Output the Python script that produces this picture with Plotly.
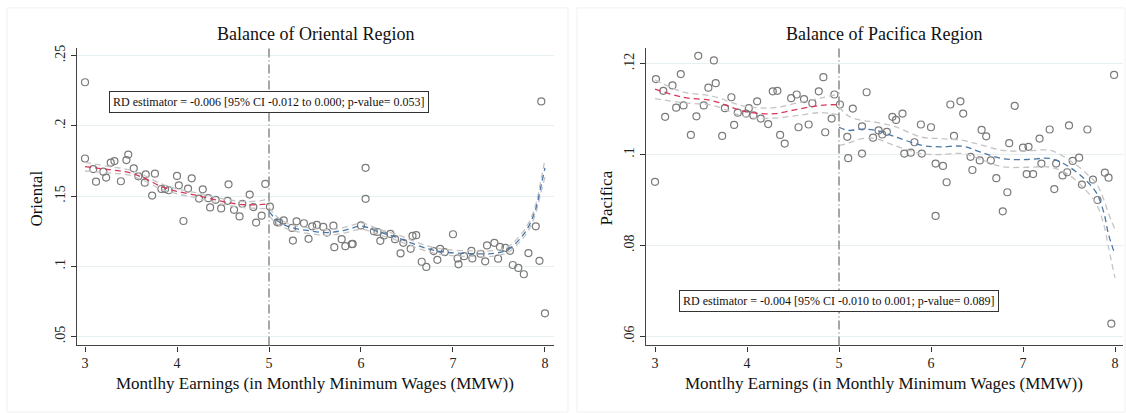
import plotly.graph_objects as go

# ---------------- data: Oriental ----------------
ori_x = [3.00, 3.00, 3.09, 3.12, 3.20, 3.23, 3.28, 3.32, 3.39, 3.45, 3.47, 3.53, 3.58, 3.65, 3.66,
         3.73, 3.76, 3.83, 3.87, 3.91, 4.00, 4.02, 4.07, 4.12, 4.16, 4.24, 4.28, 4.34, 4.36, 4.42,
         4.48, 4.55, 4.56, 4.62, 4.68, 4.71, 4.79, 4.83, 4.86, 4.92, 4.96, 5.01, 5.09, 5.11, 5.16,
         5.25, 5.26, 5.30, 5.38, 5.43, 5.47, 5.52, 5.59, 5.63, 5.70, 5.71, 5.79, 5.83, 5.90, 5.91,
         6.00, 6.05, 6.05, 6.14, 6.18, 6.21, 6.25, 6.32, 6.37, 6.43, 6.46, 6.54, 6.56, 6.60, 6.66,
         6.71, 6.79, 6.83, 6.86, 6.91, 7.00, 7.05, 7.06, 7.12, 7.20, 7.21, 7.30, 7.35, 7.37, 7.45,
         7.49, 7.51, 7.57, 7.62, 7.65, 7.71, 7.77, 7.82, 7.90, 7.94, 7.96, 8.00]
ori_y = [0.2310, 0.1767, 0.1692, 0.1602, 0.1673, 0.1631, 0.1737, 0.1749, 0.1605, 0.1756, 0.1795,
         0.1697, 0.1640, 0.1595, 0.1654, 0.1503, 0.1659, 0.1550, 0.1550, 0.1541, 0.1643, 0.1576,
         0.1322, 0.1553, 0.1626, 0.1482, 0.1548, 0.1485, 0.1419, 0.1473, 0.1412, 0.1466, 0.1583,
         0.1402, 0.1355, 0.1445, 0.1510, 0.1421, 0.1311, 0.1360, 0.1586, 0.1424, 0.1313, 0.1313,
         0.1327, 0.1273, 0.1183, 0.1320, 0.1306, 0.1195, 0.1284, 0.1294, 0.1280, 0.1240, 0.1289,
         0.1136, 0.1193, 0.1143, 0.1157, 0.1159, 0.1291, 0.1701, 0.1480, 0.1249, 0.1244, 0.1181,
         0.1219, 0.1230, 0.1193, 0.1092, 0.1167, 0.1124, 0.1216, 0.1221, 0.1032, 0.0995, 0.1108,
         0.1046, 0.1124, 0.1101, 0.1228, 0.1056, 0.1014, 0.1072, 0.1110, 0.1056, 0.1089, 0.1035,
         0.1148, 0.1167, 0.1054, 0.1138, 0.1131, 0.1110, 0.1009, 0.0988, 0.0943, 0.1094, 0.1284,
         0.1039, 0.2173, 0.0665]

ori_lx = [3.0, 3.29, 3.47, 3.65, 3.83, 4.01, 4.19, 4.37, 4.55, 4.74, 4.96, 5.0]
ori_lfit = [0.1709, 0.1685, 0.1669, 0.1626, 0.1567, 0.1532, 0.1508, 0.1480, 0.1454, 0.1438, 0.1442, 0.1449]
ori_lup = [0.1740, 0.1707, 0.1688, 0.1645, 0.1586, 0.1550, 0.1526, 0.1498, 0.1474, 0.1460, 0.1475, 0.1495]
ori_llo = [0.1678, 0.1663, 0.1650, 0.1607, 0.1548, 0.1514, 0.1490, 0.1462, 0.1434, 0.1416, 0.1410, 0.1403]

ori_rx = [5.0, 5.1, 5.25, 5.45, 5.64, 5.83, 6.01, 6.19, 6.37, 6.55, 6.75, 6.95, 7.2, 7.45, 7.6,
          7.72, 7.82, 7.9, 7.96, 8.0]
ori_rfit = [0.1390, 0.1320, 0.1275, 0.1252, 0.1240, 0.1258, 0.1285, 0.1245, 0.1210, 0.1165, 0.1120,
            0.1098, 0.1090, 0.1092, 0.1120, 0.1190, 0.1280, 0.1410, 0.1580, 0.1700]
ori_rup = [0.1420, 0.1345, 0.1295, 0.1272, 0.1260, 0.1278, 0.1307, 0.1265, 0.1230, 0.1185, 0.1140,
           0.1118, 0.1110, 0.1112, 0.1140, 0.1212, 0.1305, 0.1440, 0.1625, 0.1765]
ori_rlo = [0.1360, 0.1295, 0.1255, 0.1232, 0.1220, 0.1238, 0.1263, 0.1225, 0.1190, 0.1145, 0.1100,
           0.1078, 0.1070, 0.1072, 0.1100, 0.1168, 0.1255, 0.1380, 0.1535, 0.1635]

# ---------------- data: Pacifica ----------------
pac_x = [3.00, 3.01, 3.09, 3.11, 3.19, 3.23, 3.28, 3.31, 3.39, 3.45, 3.47, 3.53, 3.58, 3.64, 3.66,
         3.73, 3.76, 3.83, 3.86, 3.90, 3.99, 4.02, 4.07, 4.11, 4.15, 4.23, 4.28, 4.33, 4.36, 4.41,
         4.48, 4.54, 4.56, 4.62, 4.67, 4.71, 4.78, 4.83, 4.85, 4.92, 4.95, 5.01, 5.09, 5.10, 5.15,
         5.25, 5.25, 5.30, 5.37, 5.43, 5.47, 5.52, 5.58, 5.62, 5.69, 5.71, 5.78, 5.82, 5.89, 5.90,
         6.00, 6.05, 6.05, 6.13, 6.17, 6.21, 6.25, 6.32, 6.35, 6.43, 6.45, 6.53, 6.55, 6.60, 6.65,
         6.71, 6.78, 6.83, 6.85, 6.91, 7.00, 7.04, 7.06, 7.11, 7.18, 7.20, 7.29, 7.34, 7.36, 7.43,
         7.48, 7.50, 7.54, 7.61, 7.64, 7.70, 7.76, 7.81, 7.89, 7.93, 7.96, 7.99]
pac_y = [0.0940, 0.1166, 0.1140, 0.1083, 0.1152, 0.1103, 0.1177, 0.1108, 0.1043, 0.1084, 0.1217,
         0.1108, 0.1147, 0.1207, 0.1157, 0.1041, 0.1102, 0.1126, 0.1065, 0.1092, 0.1090, 0.1102,
         0.1086, 0.1117, 0.1079, 0.1067, 0.1139, 0.1140, 0.1043, 0.1024, 0.1124, 0.1132, 0.1060,
         0.1122, 0.1066, 0.1113, 0.1139, 0.1170, 0.1049, 0.1079, 0.1132, 0.1110, 0.1039, 0.0992,
         0.1101, 0.1002, 0.1062, 0.1137, 0.1037, 0.1053, 0.1044, 0.1050, 0.1083, 0.1076, 0.1090,
         0.1002, 0.1004, 0.1027, 0.1066, 0.1002, 0.1060, 0.0980, 0.0865, 0.0975, 0.0939, 0.1110,
         0.1041, 0.1117, 0.1090, 0.0995, 0.0966, 0.0987, 0.1054, 0.1040, 0.0987, 0.0948, 0.0875,
         0.0917, 0.1025, 0.1107, 0.1015, 0.0957, 0.1017, 0.0957, 0.1035, 0.0980, 0.1055, 0.0924,
         0.0980, 0.0954, 0.0961, 0.1064, 0.0986, 0.0993, 0.0934, 0.1055, 0.0945, 0.0900, 0.0960,
         0.0949, 0.0628, 0.1175]

pac_lx = [3.0, 3.3, 3.63, 3.93, 4.1, 4.3, 4.56, 4.8, 5.0]
pac_lfit = [0.1144, 0.1126, 0.1118, 0.1097, 0.1091, 0.1090, 0.1100, 0.1108, 0.1110]
pac_lup = [0.1164, 0.1138, 0.1128, 0.1108, 0.1103, 0.1103, 0.1114, 0.1124, 0.1133]
pac_llo = [0.1123, 0.1114, 0.1108, 0.1086, 0.1080, 0.1080, 0.1086, 0.1092, 0.1087]

pac_rx = [5.0, 5.1, 5.25, 5.4, 5.6, 5.9, 6.1, 6.35, 6.53, 6.78, 7.05, 7.3, 7.5, 7.68, 7.8, 7.88, 7.93, 8.0]
pac_rfit = [0.1060, 0.1053, 0.1056, 0.1053, 0.1040, 0.1020, 0.1017, 0.1018, 0.1006, 0.0991, 0.0989,
            0.0991, 0.0973, 0.0944, 0.0915, 0.0871, 0.0824, 0.0780]
pac_rup = [0.1105, 0.1085, 0.1075, 0.1071, 0.1062, 0.1038, 0.1035, 0.1031, 0.1022, 0.1009, 0.1008,
           0.1009, 0.0988, 0.0960, 0.0935, 0.0900, 0.0870, 0.0835]
pac_rlo = [0.1020, 0.1025, 0.1035, 0.1035, 0.1020, 0.1002, 0.1000, 0.1002, 0.0990, 0.0973, 0.0972,
           0.0972, 0.0955, 0.0922, 0.0890, 0.0845, 0.0795, 0.0729]

titles = ["Balance of Oriental Region", "Balance of Pacifica Region"]
ytitles = ["Oriental", "Pacifica"]
xtitle = "Montlhy Earnings (in Monthly Minimum Wages (MMW))"
rd_text = ["RD estimator = -0.006 [95% CI -0.012 to 0.000; p-value= 0.053]",
           "RD estimator = -0.004 [95% CI -0.010 to 0.001; p-value= 0.089]"]
rd_y = [0.2168, 0.0677]
x_ticks = [3, 4, 5, 6, 7, 8]
ori_ticks = [0.05, 0.10, 0.15, 0.20, 0.25]
ori_ticktext = [".05", ".1", ".15", ".2", ".25"]
pac_ticks = [0.06, 0.08, 0.10, 0.12]
pac_ticktext = [".06", ".08", ".1", ".12"]
cutoff = 5

# ---------------- styling ----------------
W, H = 1126, 413
FONT = "Liberation Serif, Times New Roman, serif"
RED = "#d8385a"
BLUE = "#4a77a5"
CI = "#c4c4c4"
PT = "#7a7a7a"
DASH = "6px,4px"

fig = go.Figure()


def add_panel(xa, ya, px, py, segs):
    fig.add_trace(go.Scatter(x=px, y=py, mode="markers", xaxis=xa, yaxis=ya,
                             marker=dict(symbol="circle-open", size=7, color=PT,
                                         line=dict(width=1.2, color=PT)),
                             showlegend=False, hoverinfo="skip"))
    for sx, fit, up, lo, col in segs:
        for arr, c in ((up, CI), (lo, CI), (fit, col)):
            fig.add_trace(go.Scatter(x=sx, y=arr, mode="lines", xaxis=xa, yaxis=ya,
                                     line=dict(color=c, width=1.3, dash=DASH, shape="spline",
                                               smoothing=1.0),
                                     showlegend=False, hoverinfo="skip"))


add_panel("x", "y", ori_x, ori_y,
          [(ori_lx, ori_lfit, ori_lup, ori_llo, RED), (ori_rx, ori_rfit, ori_rup, ori_rlo, BLUE)])
add_panel("x2", "y2", pac_x, pac_y,
          [(pac_lx, pac_lfit, pac_lup, pac_llo, RED), (pac_rx, pac_rfit, pac_rup, pac_rlo, BLUE)])

top = 1 - 45 / H
bot = 1 - 345 / H
common_x = dict(tickvals=x_ticks, ticks="outside", ticklen=5,
                tickcolor="#333", showline=True, linecolor="#444", linewidth=1.2,
                showgrid=False, zeroline=False,
                tickfont=dict(family=FONT, size=14, color="#222"))
common_y = dict(ticks="outside", ticklen=5, tickcolor="#333", showline=True, linecolor="#444",
                linewidth=1.2, showgrid=True, gridcolor="#e6f0f2", gridwidth=1, zeroline=False,
                tickangle=-90, tickfont=dict(family=FONT, size=14, color="#222"))

fig.update_layout(
    width=W, height=H, margin=dict(l=0, r=0, t=0, b=0),
    paper_bgcolor="white", plot_bgcolor="white",
    xaxis=dict(domain=[77 / W, 554 / W], anchor="y", range=[2.913, 8.098], **common_x),
    yaxis=dict(domain=[bot, top], anchor="x", range=[0.0436, 0.2556], tickvals=ori_ticks,
               ticktext=ori_ticktext, **common_y),
    xaxis2=dict(domain=[646 / W, 1123 / W], anchor="y2", range=[2.902, 8.087], **common_x),
    yaxis2=dict(domain=[bot, top], anchor="x2", range=[0.0580, 0.1235], tickvals=pac_ticks,
                ticktext=pac_ticktext, **common_y),
)

# panel frames
for x0, x1 in ((7, 568), (577, 1125)):
    fig.add_shape(type="rect", xref="paper", yref="paper", x0=x0 / W, x1=x1 / W,
                  y0=1 - 412 / H, y1=1 - 5 / H, line=dict(color="#f1f1f1", width=1),
                  fillcolor="rgba(0,0,0,0)", layer="below")

# cutoff lines
for xr, yr in (("x", "y"), ("x2", "y2")):
    fig.add_shape(type="line", xref=xr, yref=yr + " domain", x0=cutoff, x1=cutoff, y0=0, y1=1,
                  line=dict(color="#8a8a8a", width=1.5, dash="9px,3px,1px,3px"))

# titles and labels
for cx, t, yt, ytx in ((315, titles[0], ytitles[0], 37), (884, titles[1], ytitles[1], 607)):
    fig.add_annotation(xref="paper", yref="paper", x=cx / W, y=1 - 31 / H, text=t,
                       xanchor="center", yanchor="middle",
                       showarrow=False, font=dict(family=FONT, size=18, color="#111"))
    fig.add_annotation(xref="paper", yref="paper", x=cx / W, y=1 - 383 / H, text=xtitle,
                       xanchor="center", yanchor="middle",
                       showarrow=False, font=dict(family=FONT, size=17, color="#111"))
    fig.add_annotation(xref="paper", yref="paper", x=ytx / W, y=1 - 197 / H, text=yt,
                       xanchor="center", yanchor="middle",
                       textangle=-90, showarrow=False, font=dict(family=FONT, size=17, color="#111"))

for xr, yr, txt, yv in (("x", "y", rd_text[0], rd_y[0]), ("x2", "y2", rd_text[1], rd_y[1])):
    fig.add_annotation(xref=xr, yref=yr, x=cutoff, y=yv, text=txt, showarrow=False,
                       xanchor="center", yanchor="middle",
                       font=dict(family=FONT, size=12, color="#111"), bgcolor="white",
                       bordercolor="#333", borderwidth=1, borderpad=3)

fig.write_html("out.html", config={"displayModeBar": False},
               post_script="document.body.style.margin='0';document.body.style.overflow='hidden';")
